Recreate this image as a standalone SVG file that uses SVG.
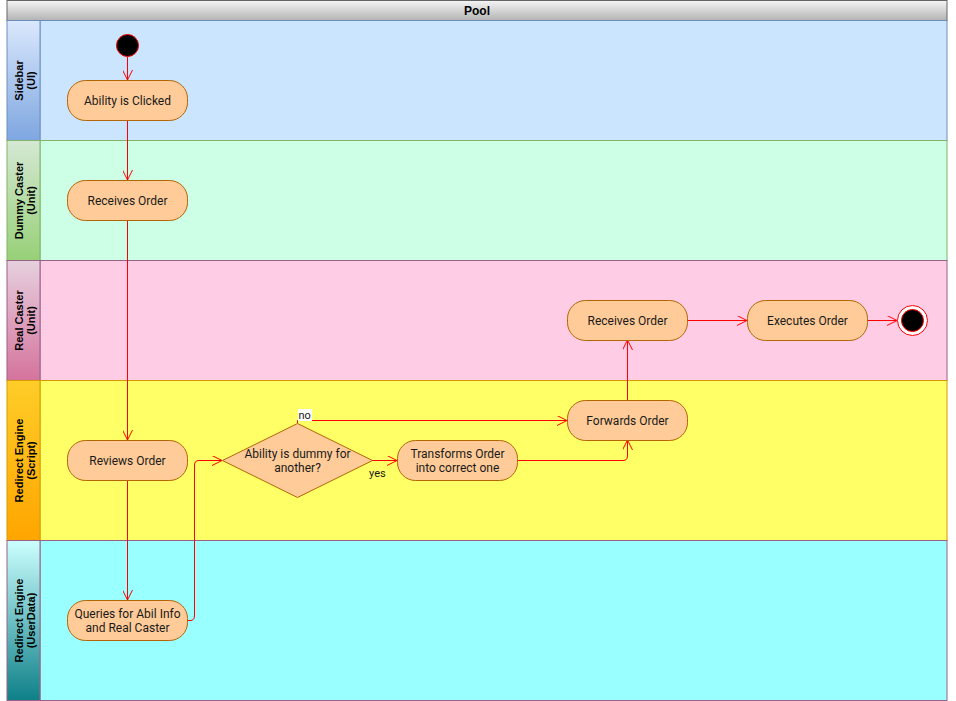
<svg xmlns="http://www.w3.org/2000/svg" width="956" height="701" viewBox="0 0 956 701">
<defs>
<linearGradient id="gHead" x1="0" y1="0" x2="0" y2="1"><stop offset="0" stop-color="#f5f5f5"/><stop offset="1" stop-color="#b3b3b3"/></linearGradient>
<linearGradient id="g1" x1="0" y1="0" x2="0" y2="1"><stop offset="0" stop-color="#dae8fc"/><stop offset="1" stop-color="#7ea6e0"/></linearGradient>
<linearGradient id="g2" x1="0" y1="0" x2="0" y2="1"><stop offset="0" stop-color="#d5e8d4"/><stop offset="1" stop-color="#97d077"/></linearGradient>
<linearGradient id="g3" x1="0" y1="0" x2="0" y2="1"><stop offset="0" stop-color="#e6d0de"/><stop offset="1" stop-color="#d5739d"/></linearGradient>
<linearGradient id="g4" x1="0" y1="0" x2="0" y2="1"><stop offset="0" stop-color="#ffcd28"/><stop offset="1" stop-color="#ffa500"/></linearGradient>
<linearGradient id="g5" x1="0" y1="0" x2="0" y2="1"><stop offset="0" stop-color="#ccffff"/><stop offset="1" stop-color="#0e8088"/></linearGradient>
<marker id="arr" viewBox="0 0 10 10" refX="10" refY="5" markerWidth="10" markerHeight="10" markerUnits="userSpaceOnUse" orient="auto">
<path d="M0,0 L10,5 L0,10" fill="none" stroke="#ff0000" stroke-width="1"/>
</marker>
</defs>
<style>
.node rect, .node polygon { fill:#ffcc99; stroke:#b46504; stroke-width:1; }
.t { font-family:Roboto, "Liberation Sans", sans-serif; font-size:12px; fill:#1a1a1a; text-anchor:middle; }
.ll { font-family:"Liberation Sans", Arial, sans-serif; font-size:11px; font-weight:bold; fill:#000; text-anchor:middle; }
.edge { fill:none; stroke:#ff0000; stroke-width:1; }
.lbl { font-family:Roboto, "Liberation Sans", sans-serif; font-size:11px; fill:#1a1a1a; }
</style>
<rect width="956" height="701" fill="#ffffff"/>
<g id="pool">
<rect x="7" y="0.5" width="940" height="20" fill="url(#gHead)" stroke="#666666"/>
<text x="477" y="15" font-family="'Liberation Sans', Arial, sans-serif" font-size="12" font-weight="bold" text-anchor="middle" fill="#000">Pool</text>
</g>
<g id="lane-sidebar">
<rect x="40" y="20.5" width="907" height="120" fill="#cce5ff" stroke="#6c8ebf"/>
<rect x="7" y="20.5" width="33" height="120" fill="url(#g1)" stroke="#6c8ebf"/>
<text class="ll" transform="translate(25,80.5) rotate(-90)"><tspan x="0" y="-2">Sidebar</tspan><tspan x="0" y="10">(UI)</tspan></text>
</g>
<g id="lane-dummy">
<rect x="40" y="140.5" width="907" height="120" fill="#ccffe6" stroke="#82b366"/>
<rect x="7" y="140.5" width="33" height="120" fill="url(#g2)" stroke="#82b366"/>
<text class="ll" transform="translate(25,200.5) rotate(-90)"><tspan x="0" y="-2">Dummy Caster</tspan><tspan x="0" y="10">(Unit)</tspan></text>
</g>
<g id="lane-real">
<rect x="40" y="260.5" width="907" height="120" fill="#ffcce6" stroke="#996185"/>
<rect x="7" y="260.5" width="33" height="120" fill="url(#g3)" stroke="#996185"/>
<text class="ll" transform="translate(25,320.5) rotate(-90)"><tspan x="0" y="-2">Real Caster</tspan><tspan x="0" y="10">(Unit)</tspan></text>
</g>
<g id="lane-script">
<rect x="40" y="380.5" width="907" height="160" fill="#ffff66" stroke="#d79b00"/>
<rect x="7" y="380.5" width="33" height="160" fill="url(#g4)" stroke="#d79b00"/>
<text class="ll" transform="translate(25,460.5) rotate(-90)"><tspan x="0" y="-2">Redirect Engine</tspan><tspan x="0" y="10">(Script)</tspan></text>
</g>
<g id="lane-userdata">
<rect x="40" y="540.5" width="907" height="160" fill="#99ffff" stroke="#996185"/>
<rect x="7" y="540.5" width="33" height="160" fill="url(#g5)" stroke="#996185"/>
<text class="ll" transform="translate(25,620.5) rotate(-90)"><tspan x="0" y="-2">Redirect Engine</tspan><tspan x="0" y="10">(UserData)</tspan></text>
</g>
<g id="connectors">
<path class="edge" d="M127.5,57 L127.5,80" marker-end="url(#arr)"/>
<path class="edge" d="M127.5,120 L127.5,180" marker-end="url(#arr)"/>
<path class="edge" d="M127.5,220 L127.5,440" marker-end="url(#arr)"/>
<path class="edge" d="M127.5,480 L127.5,600" marker-end="url(#arr)"/>
<path class="edge" d="M187,620.5 L190,620.5 Q194.5,620.5 194.5,616 L194.5,465 Q194.5,460.5 199,460.5 L222,460.5" marker-end="url(#arr)"/>
<path class="edge" d="M372,460.5 L397,460.5" marker-end="url(#arr)"/>
<path class="edge" d="M297.5,423 L297.5,420.5 L567,420.5" marker-end="url(#arr)"/>
<path class="edge" d="M517,460.5 L623,460.5 Q627.5,460.5 627.5,456 L627.5,440" marker-end="url(#arr)"/>
<path class="edge" d="M627.5,400 L627.5,340" marker-end="url(#arr)"/>
<path class="edge" d="M687,320.5 L747,320.5" marker-end="url(#arr)"/>
<path class="edge" d="M867,320.5 L897,320.5" marker-end="url(#arr)"/>
<rect x="298" y="409" width="14" height="12" fill="#ffffff"/>
<text class="lbl" x="298.5" y="419">no</text>
<text class="lbl" x="369" y="477">yes</text>
</g>
<g id="start">
<circle cx="127.5" cy="45.5" r="11" fill="#000000" stroke="#ff0000"/>
</g>
<g id="n-ability" class="node">
<rect x="67.5" y="80.5" width="120" height="40" rx="18" ry="18"/>
<text class="t" x="127.5" y="104.5">Ability is Clicked</text>
</g>
<g id="n-receives-dummy" class="node">
<rect x="67.5" y="180.5" width="120" height="40" rx="18" ry="18"/>
<text class="t" x="127.5" y="204.5">Receives Order</text>
</g>
<g id="n-reviews" class="node">
<rect x="67.5" y="440.5" width="120" height="40" rx="18" ry="18"/>
<text class="t" x="127.5" y="464.5">Reviews Order</text>
</g>
<g id="n-queries" class="node">
<rect x="67.5" y="600.5" width="120" height="40" rx="18" ry="18"/>
<text class="t" x="127.5" y="617.5">Queries for Abil Info</text>
<text class="t" x="127.5" y="631.5">and Real Caster</text>
</g>
<g id="n-decision" class="node">
<polygon points="297.5,423.5 372.5,460.5 297.5,497.5 222.5,460.5"/>
<text class="t" x="297.5" y="457.5">Ability is dummy for</text>
<text class="t" x="297.5" y="471.5">another?</text>
</g>
<g id="n-transforms" class="node">
<rect x="397.5" y="440.5" width="120" height="40" rx="18" ry="18"/>
<text class="t" x="457.5" y="457.5">Transforms Order</text>
<text class="t" x="457.5" y="471.5">into correct one</text>
</g>
<g id="n-forwards" class="node">
<rect x="567.5" y="400.5" width="120" height="40" rx="18" ry="18"/>
<text class="t" x="627.5" y="424.5">Forwards Order</text>
</g>
<g id="n-receives-real" class="node">
<rect x="567.5" y="300.5" width="120" height="40" rx="18" ry="18"/>
<text class="t" x="627.5" y="324.5">Receives Order</text>
</g>
<g id="n-executes" class="node">
<rect x="747.5" y="300.5" width="120" height="40" rx="18" ry="18"/>
<text class="t" x="807.5" y="324.5">Executes Order</text>
</g>
<g id="end">
<circle cx="912.5" cy="320.5" r="15" fill="#ffffff" stroke="#ff0000"/>
<circle cx="912.5" cy="320.5" r="11" fill="#000000" stroke="#ff0000"/>
</g>
</svg>
